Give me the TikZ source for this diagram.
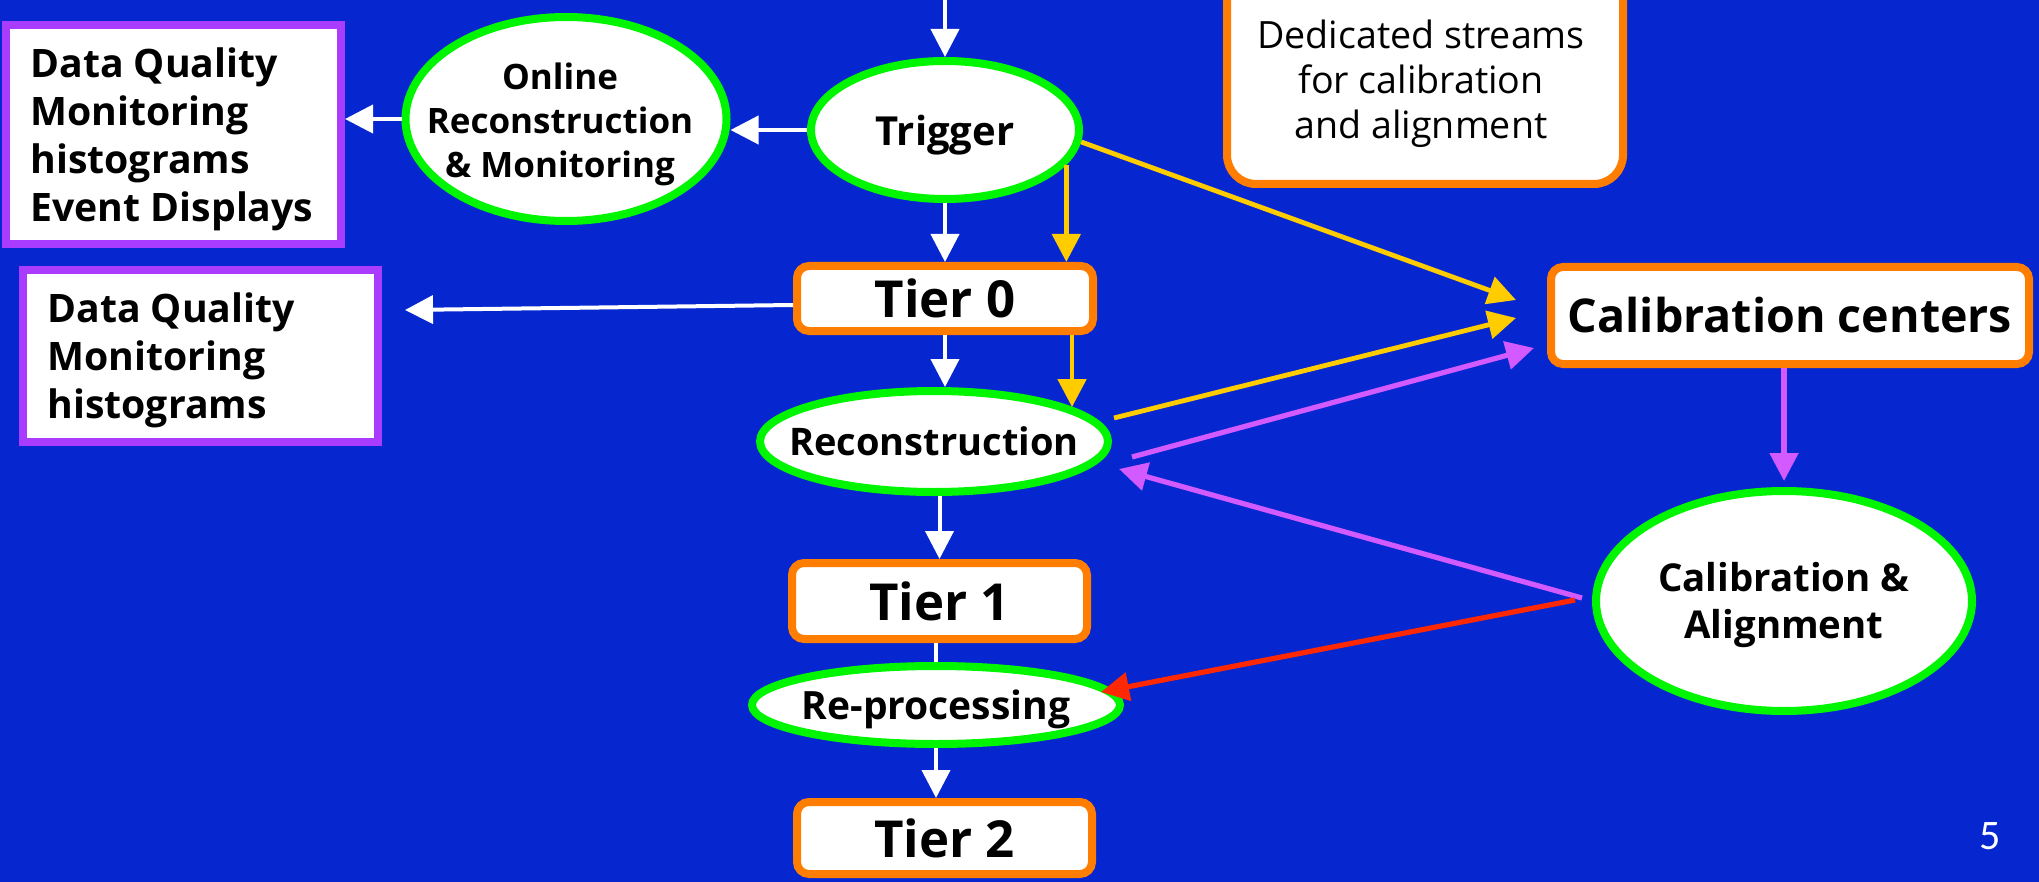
\documentclass[tikz,border=0pt]{standalone}
\usepackage{fontspec}
\setmainfont{Open Sans}
\newfontfamily\pagefont{Carlito}
\usetikzlibrary{arrows.meta,shapes.geometric,calc}

\definecolor{slidebg}{RGB}{6,38,208}
\definecolor{lime}{RGB}{0,245,0}
\definecolor{tierorange}{RGB}{255,125,0}
\definecolor{dqmpurple}{RGB}{170,60,255}
\definecolor{calpurple}{RGB}{210,90,255}
\definecolor{streamyellow}{RGB}{255,204,0}
\definecolor{fixred}{RGB}{255,40,0}

\newcommand{\fs}[2]{\fontsize{#1}{#2}\selectfont}

\begin{document}
\begin{tikzpicture}[x=0.5pt,y=-0.5pt,
  ell/.style={ellipse, draw=lime, line width=4pt, fill=white, inner sep=0pt},
  tierbox/.style={rectangle, rounded corners=6pt, draw=tierorange, line width=4pt,
                  fill=white, inner sep=0pt, font=\bfseries\fs{25.5}{30}},
  dqmbox/.style={rectangle, draw=dqmpurple, line width=4pt, fill=white, inner sep=0pt},
  lbl/.style={inner sep=0pt, align=center, text=black},
  dqmtext/.style={lbl, align=left, anchor=west, font=\bfseries\fs{19.6}{24}},
  conn/.style={line width=2pt, -{Triangle[length=14pt,width=14pt]}},
  wline/.style={conn, white},
  yline/.style={conn, streamyellow, line width=2.4pt},
  pline/.style={conn, calpurple, line width=2.6pt},
  rline/.style={conn, fixred, line width=2.6pt}]

% slide background
\fill[slidebg] (0,0) rectangle (2039,882);
\useasboundingbox (0,0) rectangle (2039,882);

% monitoring output boxes
\node[dqmbox, minimum width=167.5pt, minimum height=109.5pt] (dqm1) at (173.5,134.5) {};
\node[dqmtext] (dqm1-t) at ($(dqm1.west)+(28,4.5)$)
  {Data Quality\\Monitoring\\histograms\\Event Displays};
\node[dqmbox, minimum width=177.5pt, minimum height=86pt] (dqm2) at (200.5,356) {};
\node[dqmtext] (dqm2-t) at ($(dqm2.west)+(28,4)$)
  {Data Quality\\Monitoring\\histograms};

% online chain
\node[ell, minimum width=160.5pt, minimum height=102pt] (onl) at (566,119) {};
\node[lbl, font=\bfseries\fs{17.5}{22}] (onl-t) at ($(onl)+(-6,5)$)
  {Online\\Reconstruction\\\& Monitoring};
\node[ell, minimum width=134pt, minimum height=69pt] (trig) at (945,130) {};
\node[lbl, font=\bfseries\fs{20}{24}, text depth=0pt] (trig-t) at (trig) {Trigger};

% tiers and processing
\node[tierbox, minimum width=148pt, minimum height=32.5pt] (t0) at (945,298.5) {Tier 0};
\node[ell, minimum width=174pt, minimum height=50.5pt] (reco) at (934,441.5) {};
\node[lbl, font=\bfseries\fs{19}{22}] (reco-t) at (reco) {Reconstruction};
\node[tierbox, minimum width=147.5pt, minimum height=38pt] (t1) at (939.5,601) {Tier 1};
\node[ell, minimum width=184pt, minimum height=39pt] (reproc) at (936,705) {};
\node[lbl, font=\bfseries\fs{19.5}{22}, text depth=0pt] (reproc-t) at (reproc) {Re-processing};
\node[tierbox, minimum width=147.5pt, minimum height=36pt] (t2) at (944.5,838) {Tier 2};

% calibration side
\node[rectangle, rounded corners=14.5pt, draw=tierorange, line width=4pt, fill=white,
      minimum width=198pt, minimum height=115pt] (ded) at (1425,69) {};
\node[lbl, font=\fs{18.8}{22.5}] (ded-t) at (1421,84)
  {Dedicated streams\\for calibration\\and alignment};
\node[tierbox, font=\bfseries\fs{23.3}{28}, minimum width=239pt, minimum height=48.5pt]
  (calc) at (1790,315.5) {Calibration centers};
\node[ell, minimum width=188pt, minimum height=110pt] (ca) at (1784,601) {};
\node[lbl, font=\bfseries\fs{19.2}{23.5}] (ca-t) at ($(ca)+(0,4)$) {Calibration \&\\Alignment};

% slide number
\node[text=white, font=\pagefont\fs{21}{21}] (pg) at (1990,836) {5};

% data flow
\coordinate (feed) at (945,0);
\draw[wline] (feed) -- (feed |- trig.north);
\draw[wline] (trig.west) -- (trig.west -| onl.east);
\draw[wline] (onl.west) -- (onl.west -| dqm1.east);
\draw[wline] (trig.south) -- (trig.south |- t0.north);
\draw[wline] ($(t0.west)+(0,6.5)$) -- ($(dqm2.east)+(23,-46)$);
\draw[wline] (t0.south) -- (t0.south |- reco.north);
\draw[wline] (t1.north |- reco.south) -- (t1.north);
\draw[white, line width=2pt] (reproc.north |- t1.south) -- (reproc.north);
\draw[wline] (reproc.south) -- (reproc.south |- t2.north);

% calibration streams
\draw[yline] (trig.-16) -- (trig.-16 |- t0.north);
\draw[yline] (trig.-5) -- ($(calc.west)+(-31,-15.5)$);
\draw[yline] (reco.14 |- t0.south) -- (reco.14);
\draw[yline] ($(reco.east)+(2,-23.5)$) -- ($(calc.west)+(-31,2.5)$);
\draw[pline] ($(reco.east)+(20,15.5)$) -- ($(calc.west)+(-13,32.5)$);
\draw[pline, shorten >=3pt] (ca.north |- calc.south) -- (ca.north);
\draw[pline] ($(ca.west)+(-10,-3)$) -- ($(reco.east)+(7,27.5)$);
\draw[rline] ($(ca.west)+(-17,-1)$) -- ($(reproc.east)+(-23,-13)$);
\end{tikzpicture}
\end{document}
